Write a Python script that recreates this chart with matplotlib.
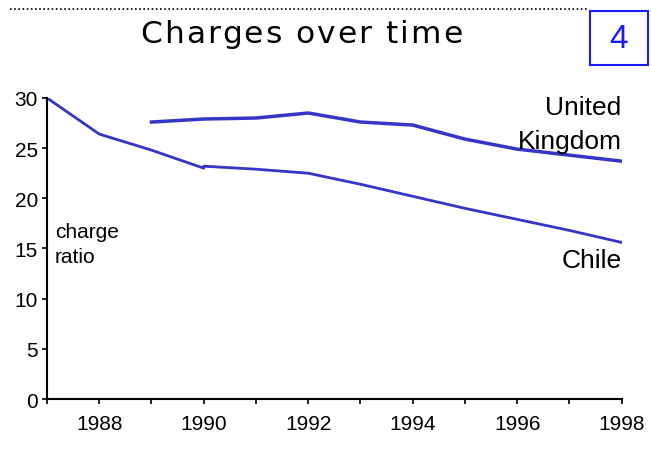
import matplotlib.pyplot as plt
from matplotlib.patches import Rectangle
from matplotlib.lines import Line2D
from matplotlib.font_manager import FontProperties, findfont, get_font

plt.rcParams['font.family'] = ['Liberation Sans', 'DejaVu Sans']

chile_years = [1987, 1988, 1989, 1990, 1990, 1991, 1992, 1993, 1994, 1995, 1996, 1997, 1998]
chile_vals = [30.0, 26.4, 24.8, 23.0, 23.2, 22.9, 22.5, 21.4, 20.2, 19.0, 17.9, 16.8, 15.6]
uk_years = [1989, 1990, 1991, 1992, 1993, 1994, 1995, 1996, 1997, 1998]
uk_vals = [27.6, 27.9, 28.0, 28.5, 27.6, 27.3, 25.9, 24.9, 24.3, 23.7]

title = 'Charges over time'
line_color = '#3535c8'

fig = plt.figure(figsize=(6.51, 4.56), dpi=100)
ax = fig.add_axes([0.0722, 0.1228, 0.8828, 0.6602])

ax.plot(chile_years, chile_vals, color=line_color, lw=2, solid_joinstyle='round')
ax.plot(uk_years, uk_vals, color=line_color, lw=2.5, solid_joinstyle='round')

ax.set_xlim(1987, 1998)
ax.set_ylim(0, 30)
ax.set_xticks(range(1988, 1999, 2))
ax.set_xticks(range(1987, 1999), minor=True)
ax.set_yticks(range(0, 31, 5))
ax.tick_params(axis='both', which='both', labelsize=15, length=3.5, width=1.2, direction='out')
ax.tick_params(axis='y', pad=3)
ax.tick_params(axis='x', pad=7)
for s in ['top', 'right']:
    ax.spines[s].set_visible(False)
for s in ['left', 'bottom']:
    ax.spines[s].set_linewidth(1.5)

ax.text(1998, 28.4, 'United', ha='right', va='baseline', fontsize=19)
ax.text(1998, 25.0, 'Kingdom', ha='right', va='baseline', fontsize=19)
ax.text(1998, 13.16, 'Chile', ha='right', va='baseline', fontsize=19)
ax.text(1987.15, 16.15, 'charge', ha='left', va='baseline', fontsize=15)
ax.text(1987.15, 13.66, 'ratio', ha='left', va='baseline', fontsize=15)

# title with slightly wide letter spacing, drawn one character at a time
fp = FontProperties(family='DejaVu Sans', size=22.5)
font = get_font(findfont(fp))
font.set_size(22.5, 72)
adv = [font.load_char(ord(c)).linearHoriAdvance / 65536 for c in title]
span_pt = 322 / 100 * 72
gap = (span_pt - sum(adv)) / (len(title) - 1)
x_pt = 140 / 100 * 72
for c, a in zip(title, adv):
    fig.text(x_pt / 72 * 100 / 651, 0.906, c, ha='left', va='baseline', fontproperties=fp)
    x_pt += a + gap

# dotted rule and numbered box at the top
fig.add_artist(Line2D([0.015, 0.905], [0.978, 0.978], color='black', lw=1.2,
                      linestyle=(0, (1, 1.5)), transform=fig.transFigure))
fig.add_artist(Rectangle((0.906, 0.855), 0.089, 0.119, fill=False, edgecolor='#1a1aff',
                         lw=1.5, transform=fig.transFigure))
fig.text(0.9505, 0.913, '4', ha='center', va='center', fontsize=24, color='#1a1aff')

plt.savefig('out.png', dpi=100)
